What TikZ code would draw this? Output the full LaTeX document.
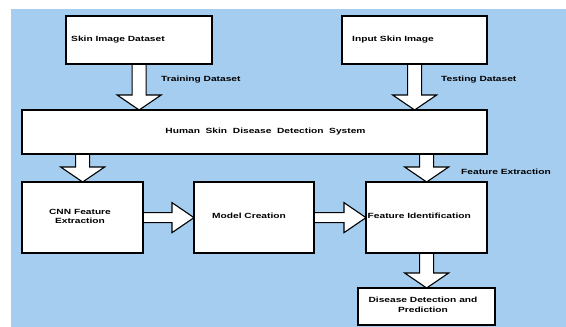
\documentclass[tikz,border=0pt]{standalone}
\usepackage{fontspec}
\setmainfont{Liberation Sans}[FakeStretch=1.36]
\usetikzlibrary{calc}
\definecolor{bgblue}{RGB}{164,205,240}
\newcommand\dnarrow[2]{\draw[barrow] let \p1=(#1), \p2=(#2) in
  (\x1-7pt,\y1) -- (\x1-7pt,\y2+15pt) -- (\x1-22pt,\y2+15pt) -- (\x1,\y2)
  -- (\x1+22pt,\y2+15pt) -- (\x1+7pt,\y2+15pt) -- (\x1+7pt,\y1);}
\newcommand\rtarrow[2]{\draw[barrow] let \p1=(#1), \p2=(#2) in
  (\x1,\y1+5pt) -- (\x2-22pt,\y1+5pt) -- (\x2-22pt,\y1+15pt) -- (\x2,\y1)
  -- (\x2-22pt,\y1-15pt) -- (\x2-22pt,\y1-5pt) -- (\x1,\y1-5pt);}
\begin{document}
\begin{tikzpicture}[x=1pt,y=-1pt,
  txt/.style={font=\fontsize{7.5}{9.5}\selectfont\bfseries},
  box/.style={draw=black, line width=1.3pt, fill=white, inner sep=0pt, anchor=north west, txt},
  lbl/.style={txt, inner sep=0pt, anchor=west},
  barrow/.style={draw=black, fill=white, line width=1.1pt, line join=miter}]
\useasboundingbox (0,0) rectangle (566,327);
\fill[bgblue] (11,9) rectangle (566,327);
% boxes
\node[box, minimum width=145pt, minimum height=47pt] (sid) at (66,16) {};
\node[box, minimum width=144pt, minimum height=47pt] (inp) at (342,16) {};
\node[box, minimum width=464pt, minimum height=43pt] (hs) at (22,110) {};
\node[box, minimum width=120pt, minimum height=70pt] (cnn) at (22,182) {};
\node[box, minimum width=119pt, minimum height=70pt] (mc) at (194,182) {};
\node[box, minimum width=120pt, minimum height=70pt] (fi) at (366,182) {};
\node[box, minimum width=136pt, minimum height=36pt] (dd) at (358,288) {};
% arrows
\dnarrow{sid.south}{sid.south |- hs.north}
\dnarrow{inp.south}{inp.south |- hs.north}
\dnarrow{cnn.north |- hs.south}{cnn.north}
\dnarrow{fi.north |- hs.south}{fi.north}
\dnarrow{fi.south}{dd.north}
\rtarrow{cnn.east}{mc.west}
\rtarrow{mc.east}{fi.west}
% redraw box borders over arrow ends
\foreach \n in {sid,inp,hs,cnn,mc,fi,dd}
  \draw[line width=1.3pt] (\n.north west) rectangle (\n.south east);
% texts
\node[lbl] (tsid) at (71,39.5) {Skin Image Dataset};
\node[lbl] (tinp) at (352,39.5) {Input Skin Image};
\node[txt, inner sep=0pt] (ths) at (265.5,132) {Human\ \ Skin\ \ Disease\ \ Detection\ \ System};
\node[txt, inner sep=0pt, align=center] (tcnn) at (80,216.5) {CNN Feature\\Extraction};
\node[txt, inner sep=0pt] (tmc) at (249,216) {Model Creation};
\node[lbl] (tfi) at (367.5,216) {Feature Identification};
\node[txt, inner sep=0pt, align=center] (tdd) at (423,305) {Disease Detection and\\Prediction};
\node[lbl] (ltr) at (161,80) {Training Dataset};
\node[lbl] (lte) at (441,80) {Testing Dataset};
\node[lbl] (lfe) at (461,172) {Feature Extraction};
\end{tikzpicture}
\end{document}
